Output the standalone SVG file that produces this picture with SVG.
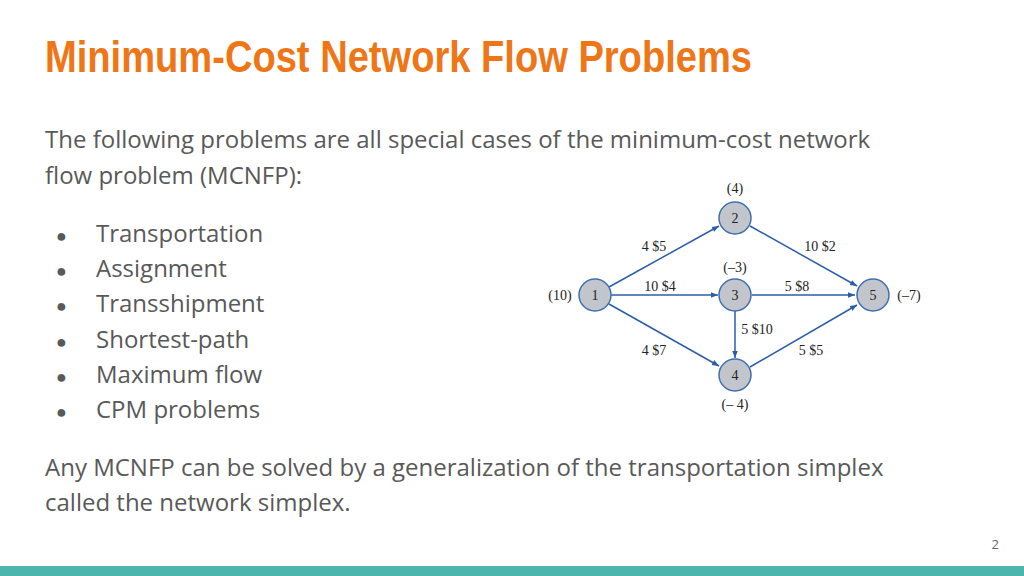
<svg xmlns="http://www.w3.org/2000/svg" width="1024" height="576" viewBox="0 0 1024 576">
<style>
.t{font-family:"Open Sans","Noto Sans",sans-serif;font-size:24px;fill:#595959}
.n circle{fill:#c3c5cc;stroke:#3f6fb0;stroke-width:1.5}
.g{font-family:"Liberation Serif",serif;font-size:14px;fill:#222}
.c line{stroke:#2a5fa8;stroke-width:1.5;marker-end:url(#a)}
</style>
<defs><marker id="a" viewBox="0 0 10 10" refX="10" refY="5" markerWidth="7" markerHeight="7" orient="auto" markerUnits="userSpaceOnUse"><path d="M0,1 L10,5 L0,9 z" fill="#2a5fa8"/></marker></defs>
<rect width="1024" height="576" fill="#fff"/>
<text x="45" y="72" textLength="707" lengthAdjust="spacingAndGlyphs" style="font-family:'Liberation Sans',sans-serif;font-weight:bold;font-size:44px;fill:#ef7617">Minimum-Cost Network Flow Problems</text>
<text class="t" x="45" y="148">The following problems are all special cases of the minimum-cost network</text>
<text class="t" x="45" y="184">flow problem (MCNFP):</text>
<g class="t">
<text x="56" y="242" font-size="18">●</text><text x="96" y="242">Transportation</text>
<text x="56" y="277" font-size="18">●</text><text x="96" y="277">Assignment</text>
<text x="56" y="312" font-size="18">●</text><text x="96" y="312">Transshipment</text>
<text x="56" y="348" font-size="18">●</text><text x="96" y="348">Shortest-path</text>
<text x="56" y="383" font-size="18">●</text><text x="96" y="383">Maximum flow</text>
<text x="56" y="418" font-size="18">●</text><text x="96" y="418">CPM problems</text>
</g>
<text class="t" x="45" y="476">Any MCNFP can be solved by a generalization of the transportation simplex</text>
<text class="t" x="45" y="511">called the network simplex.</text>
<text x="999" y="549" text-anchor="end" style="font-family:'Open Sans',sans-serif;font-size:13px;fill:#666">2</text>
<rect x="0" y="566" width="1024" height="10" fill="#4db6ac"/>
<g class="c">
<line x1="609" y1="287" x2="719" y2="226"/>
<line x1="611" y1="295" x2="718" y2="295"/>
<line x1="609" y1="304" x2="719" y2="366"/>
<line x1="750" y1="226" x2="857" y2="286"/>
<line x1="752" y1="295" x2="855" y2="295"/>
<line x1="735" y1="311" x2="735" y2="358"/>
<line x1="750" y1="367" x2="857" y2="305"/>
</g>
<g class="g">
<text x="654" y="251" text-anchor="middle">4 $5</text>
<text x="660" y="291" text-anchor="middle">10 $4</text>
<text x="654" y="355" text-anchor="middle">4 $7</text>
<text x="820" y="251" text-anchor="middle">10 $2</text>
<text x="797" y="291" text-anchor="middle">5 $8</text>
<text x="757" y="334" text-anchor="middle">5 $10</text>
<text x="811" y="355" text-anchor="middle">5 $5</text>
</g>
<g id="n1" class="n"><circle cx="595" cy="295" r="16"/><text class="g" x="595" y="300" text-anchor="middle">1</text><text class="g" x="560" y="300" text-anchor="middle">(10)</text></g>
<g id="n2" class="n"><circle cx="735" cy="218" r="16"/><text class="g" x="735" y="223" text-anchor="middle">2</text><text class="g" x="735" y="193" text-anchor="middle">(4)</text></g>
<g id="n3" class="n"><circle cx="735" cy="295" r="16"/><text class="g" x="735" y="300" text-anchor="middle">3</text><text class="g" x="735" y="272" text-anchor="middle">(–3)</text></g>
<g id="n4" class="n"><circle cx="735" cy="375" r="16"/><text class="g" x="735" y="380" text-anchor="middle">4</text><text class="g" x="735" y="409" text-anchor="middle">(– 4)</text></g>
<g id="n5" class="n"><circle cx="873" cy="295" r="16"/><text class="g" x="873" y="300" text-anchor="middle">5</text><text class="g" x="909" y="300" text-anchor="middle">(–7)</text></g>
</svg>
